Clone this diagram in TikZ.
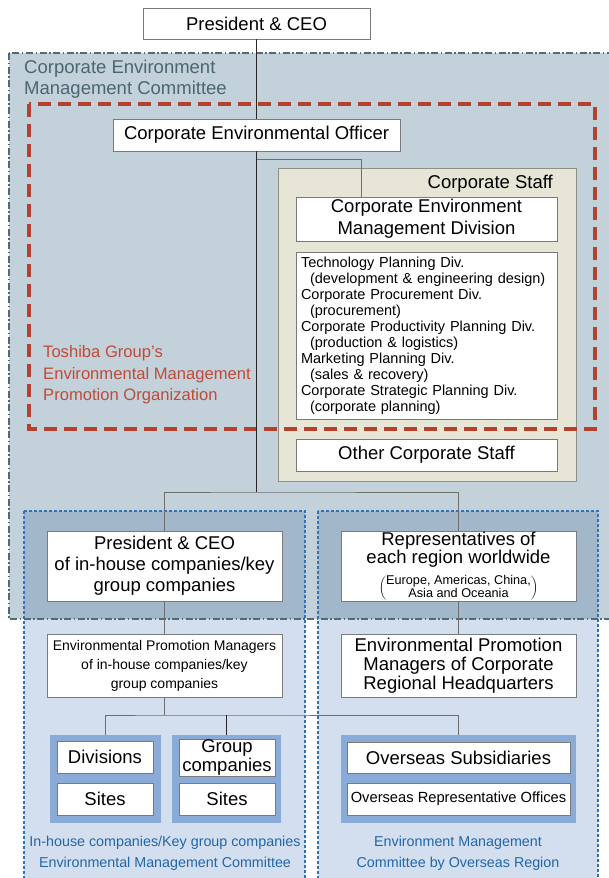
\documentclass[tikz,border=0pt]{standalone}
\usepackage{fontspec}
\setmainfont{Liberation Sans}
\definecolor{cmtfill}{HTML}{C3D2DA}
\definecolor{cmtline}{HTML}{4F6B78}
\definecolor{cmttext}{HTML}{4B6572}
\definecolor{orgred}{HTML}{B5402C}
\definecolor{orgtext}{HTML}{C04A38}
\definecolor{stafffill}{HTML}{E7E5D5}
\definecolor{staffline}{HTML}{8F8F88}
\definecolor{regionlight}{HTML}{D3DEEF}
\definecolor{regiondark}{HTML}{A3B7CB}
\definecolor{regionline}{HTML}{3372B5}
\definecolor{regiontext}{HTML}{2366A8}
\definecolor{setfill}{HTML}{8AAAD8}
\definecolor{boxline}{HTML}{7A7A7A}
\definecolor{linkgray}{HTML}{6E6E6E}
\begin{document}
\begin{tikzpicture}[x=1pt,y=-1pt,
  box/.style={draw=boxline, fill=white, line width=0.8pt, inner sep=0pt, align=center},
  big/.style={font=\fontsize{18.5}{21}\selectfont},
  small/.style={font=\fontsize{14}{19}\selectfont},
  boxset/.style={fill=setfill, inner sep=0pt},
  link/.style={draw=linkgray, line width=0.8pt},
  mainlink/.style={draw=black!85, line width=0.9pt}]
\useasboundingbox (0,0) rectangle (609,878);
\clip (0,0) rectangle (609,878);
% committee area and regions
\fill[cmtfill] (9,53) rectangle (616,619);
\fill[regionlight] (24,511) rectangle (305,884);
\fill[regionlight] (318,511) rectangle (598,884);
\fill[regiondark] (24,511) rectangle (305,619);
\fill[regiondark] (318,511) rectangle (598,619);
\draw[staffline, fill=stafffill, line width=1pt] (278,168) rectangle (576,481);
\draw[regionline, line width=1.6pt, dash pattern=on 3pt off 2pt] (24,511) rectangle (305,884);
\draw[regionline, line width=1.6pt, dash pattern=on 3pt off 2pt] (318,511) rectangle (598,884);
\draw[cmtline, line width=1.6pt, dash pattern=on 7pt off 2.5pt on 1.5pt off 2.5pt] (9,53) rectangle (616,619);
\draw[orgred, line width=4pt, dash pattern=on 13pt off 7pt] (29,104) rectangle (595,429);
% area labels
\node[anchor=west, align=left, text=cmttext, inner sep=0pt, font=\fontsize{18.5}{21.5}\selectfont] (cmtlabel) at (24,79) {Corporate Environment\\Management Committee};
\node[anchor=west, align=left, text=orgtext, inner sep=0pt, font=\fontsize{16.6}{21.5}\selectfont] (orglabel) at (43,375) {Toshiba Group’s\\Environmental Management\\Promotion Organization};
\node[anchor=east, inner sep=0pt, big] (stafflabel) at (553,184) {Corporate Staff};
% top of the organization
\node[box, big, minimum width=227, minimum height=31] (pres) at (256.5,23.5) {President \& CEO};
\node[box, big, minimum width=287, minimum height=32] (officer) at (256.5,135) {Corporate Environmental Officer};
\node[box, font=\fontsize{18.5}{22}\selectfont, minimum width=261, minimum height=44] (cemd) at (426.5,219) {Corporate Environment\\Management Division};
\node[box, align=left, font=\fontsize{14.5}{16}\selectfont, text width=251, inner xsep=5, minimum height=167] (divlist) at (426.5,335.5) {Technology Planning Div.\\
\hspace*{9pt}(development \& engineering design)\\
Corporate Procurement Div.\\
\hspace*{9pt}(procurement)\\
Corporate Productivity Planning Div.\\
\hspace*{9pt}(production \& logistics)\\
Marketing Planning Div.\\
\hspace*{9pt}(sales \& recovery)\\
Corporate Strategic Planning Div.\\
\hspace*{9pt}(corporate planning)};
\node[box, big, minimum width=261, minimum height=32] (otherstaff) at (426.5,455) {Other Corporate Staff};
\coordinate (staffjoin) at (361,159);
\coordinate (split) at (256.5,492);
% companies and regions
\node[box, big, minimum width=235, minimum height=70] (ceoin) at (164.5,566) {President \& CEO\\of in-house companies/key\\group companies};
\node[box, font=\fontsize{18.5}{18.5}\selectfont, minimum width=235, minimum height=70] (rep) at (458.5,566) {Representatives of\\each region worldwide\\[7pt]
{\fontsize{12.7}{11}\selectfont$\left(\begin{tabular}{@{}c@{}}Europe, Americas, China,\\Asia and Oceania\end{tabular}\right)$}};
\node[box, small, minimum width=235, minimum height=63] (epmin) at (164.5,665.5) {Environmental Promotion Managers\\of in-house companies/key\\group companies};
\node[box, font=\fontsize{18.5}{19}\selectfont, minimum width=235, minimum height=63] (epmreg) at (458.5,665.5) {Environmental Promotion\\Managers of Corporate\\Regional Headquarters};
\coordinate (fork) at (164.5,715);
% sites
\node[boxset, minimum width=111, minimum height=88] (divset) at (105.5,779) {};
\node[boxset, minimum width=109, minimum height=88] (grpset) at (226.5,779) {};
\node[boxset, minimum width=235, minimum height=88] (ovsset) at (458.5,779) {};
\node[box, big, minimum width=96, minimum height=32] (divisions) at (105,757) {Divisions};
\node[box, big, minimum width=96, minimum height=32] (sitesa) at (105,799) {Sites};
\node[box, font=\fontsize{18.5}{16}\selectfont, minimum width=96, minimum height=37] (groupco) at (227,757.5) {Group\\companies};
\node[box, big, minimum width=96, minimum height=32] (sitesb) at (227,799) {Sites};
\node[box, big, minimum width=223, minimum height=31] (ovssub) at (458.5,757.5) {Overseas Subsidiaries};
\node[box, font=\fontsize{14.7}{16}\selectfont, minimum width=223, minimum height=32] (ovsrep) at (458.5,799) {Overseas Representative Offices};
\node[text=regiontext, align=center, inner sep=0pt, font=\fontsize{14.3}{21}\selectfont] (inlabel) at (165,853.5) {In-house companies/Key group companies\\Environmental Management Committee};
\node[text=regiontext, align=center, inner sep=0pt, font=\fontsize{14.3}{21}\selectfont] (reglabel) at (458,853.5) {Environment Management\\Committee by Overseas Region};
% connectors
\draw[mainlink] (pres) -- (officer);
\draw[mainlink] (officer) -- (split);
\draw[link] (officer.south |- staffjoin) -- (staffjoin) -- (staffjoin |- cemd.north);
\draw[link] (ceoin.north) |- (split) -| (rep.north);
\draw[link] (ceoin) -- (epmin);
\draw[link] (rep) -- (epmreg);
\draw[link] (epmin) -- (fork);
\draw[link] (divset.north) |- (fork) -| (ovsset.north);
\draw[mainlink] (grpset.north) -- (grpset.north |- fork);
\end{tikzpicture}
\end{document}
